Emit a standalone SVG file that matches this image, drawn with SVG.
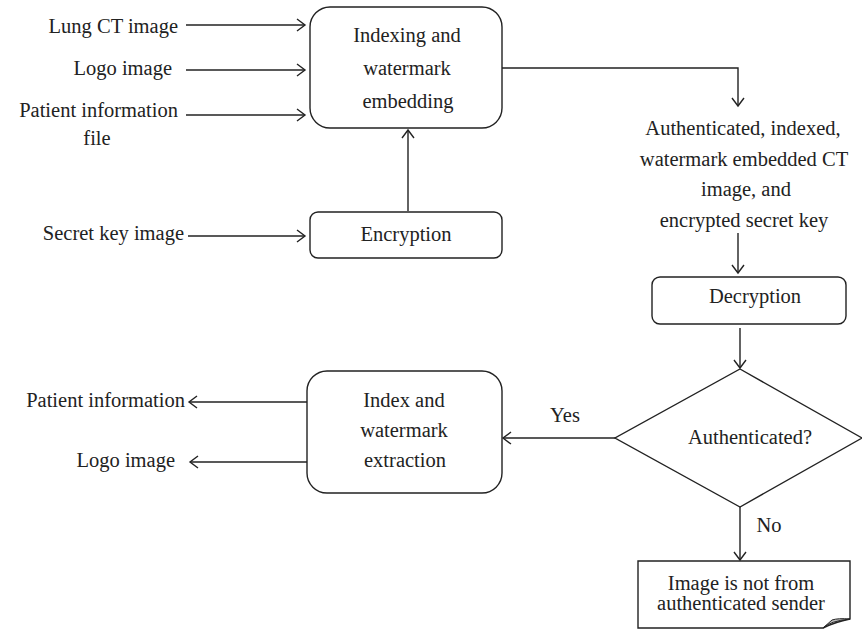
<svg xmlns="http://www.w3.org/2000/svg" width="862" height="631" viewBox="0 0 862 631">
<style>
text{font-family:"Liberation Serif","Times New Roman",serif;font-size:20.5px;fill:#222}
.c{text-anchor:middle}
.r{text-anchor:end}
.box{fill:#fff;stroke:#222;stroke-width:1.4}
.ln{fill:none;stroke:#222;stroke-width:1.4}
</style>
<defs>
<marker id="ah" viewBox="-10 -7 12 14" markerWidth="12" markerHeight="14" refX="0" refY="0" orient="auto" markerUnits="userSpaceOnUse">
<path d="M-8,-6 L0,0 L-8,6" fill="none" stroke="#222" stroke-width="1.4"/>
</marker>
</defs>
<rect width="862" height="631" fill="#fff"/>
<g id="connectors">
<line class="ln" x1="186" y1="25" x2="305" y2="25" marker-end="url(#ah)"/>
<line class="ln" x1="186" y1="70" x2="305" y2="70" marker-end="url(#ah)"/>
<line class="ln" x1="186" y1="115" x2="305" y2="115" marker-end="url(#ah)"/>
<line class="ln" x1="188" y1="236" x2="305" y2="236" marker-end="url(#ah)"/>
<line class="ln" x1="408" y1="211" x2="408" y2="130" marker-end="url(#ah)"/>
<polyline class="ln" points="502,68 738,68 738,106" marker-end="url(#ah)"/>
<line class="ln" x1="738" y1="233" x2="738" y2="273" marker-end="url(#ah)"/>
<line class="ln" x1="740" y1="328" x2="740" y2="368" marker-end="url(#ah)"/>
<line class="ln" x1="615" y1="438" x2="503" y2="438" marker-end="url(#ah)"/>
<line class="ln" x1="307" y1="402" x2="189" y2="402" marker-end="url(#ah)"/>
<line class="ln" x1="307" y1="462" x2="190" y2="462" marker-end="url(#ah)"/>
<line class="ln" x1="740" y1="507" x2="740" y2="560" marker-end="url(#ah)"/>
</g>
<g id="inputs">
<text class="r" x="178" y="33">Lung CT image</text>
<text class="r" x="172" y="75">Logo image</text>
<text class="r" x="178" y="117">Patient information</text>
<text class="c" x="97" y="145">file</text>
<text class="r" x="184" y="240">Secret key image</text>
</g>
<g id="embedding">
<rect class="box" x="310" y="7" width="192" height="121" rx="20"/>
<text class="c" x="407" y="42">Indexing and</text>
<text class="c" x="407" y="75">watermark</text>
<text class="c" x="408" y="108">embedding</text>
</g>
<g id="encryption">
<rect class="box" x="310" y="212" width="192" height="46" rx="8"/>
<text class="c" x="406" y="241">Encryption</text>
</g>
<g id="output-text">
<text class="c" x="743" y="135">Authenticated, indexed,</text>
<text class="c" x="744" y="165.5">watermark embedded CT</text>
<text class="c" x="746" y="196">image, and</text>
<text class="c" x="744" y="227">encrypted secret key</text>
</g>
<g id="decryption">
<rect class="box" x="652" y="277" width="194" height="47" rx="8"/>
<text class="c" x="755" y="303">Decryption</text>
</g>
<g id="decision">
<polygon class="box" points="740,369 862,438 740,507 615,438"/>
<text class="c" x="750" y="444">Authenticated?</text>
<text class="c" x="565" y="422">Yes</text>
<text class="c" x="769" y="532">No</text>
</g>
<g id="extraction">
<rect class="box" x="307" y="371" width="195" height="122" rx="20"/>
<text class="c" x="404" y="407">Index and</text>
<text class="c" x="404" y="437">watermark</text>
<text class="c" x="405" y="467">extraction</text>
</g>
<g id="outputs">
<text class="r" x="185" y="407">Patient information</text>
<text class="r" x="175" y="467">Logo image</text>
</g>
<g id="rejected">
<path class="box" d="M638,561 H850 V619 Q835,622 823,628 H638 Z"/>
<path d="M823,628 Q830,621 850,619 Q838,618 832,620 Z" fill="#bbb" stroke="#222" stroke-width="1"/>
<text class="c" x="741" y="590">Image is not from</text>
<text class="c" x="741" y="610">authenticated sender</text>
</g>
</svg>
